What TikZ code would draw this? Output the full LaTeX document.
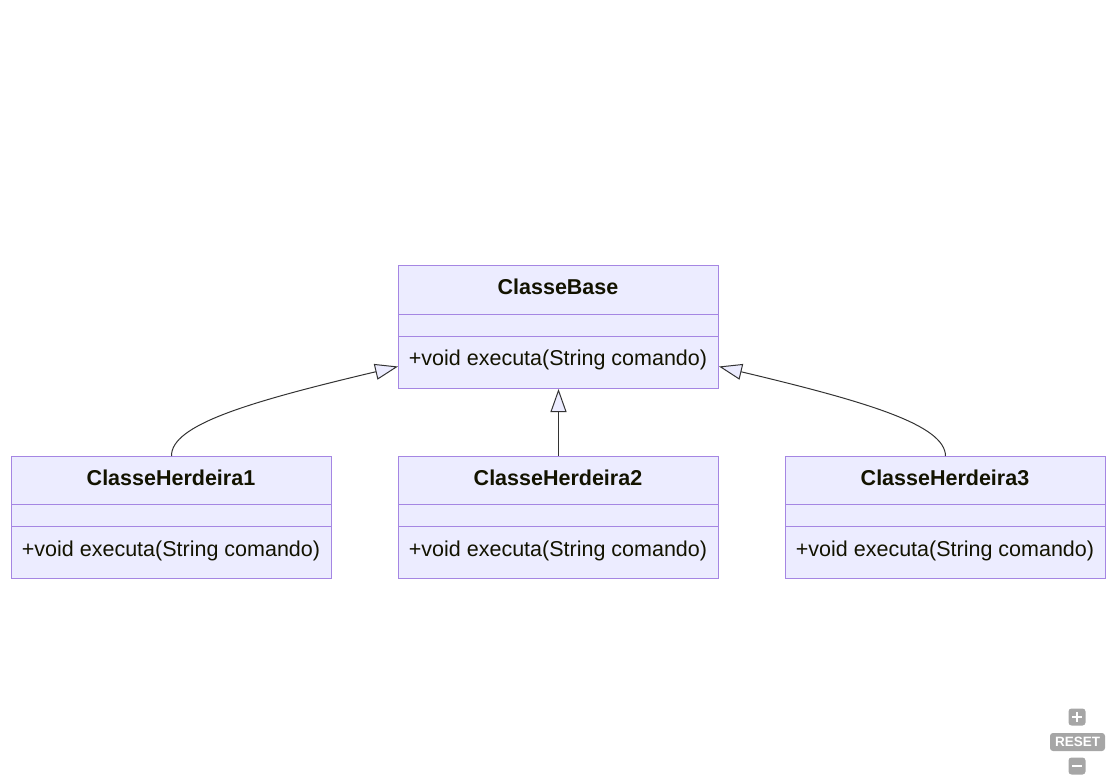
\documentclass[tikz,border=0pt]{standalone}
\usepackage{fontspec}
\setmainfont{Liberation Sans}
\usetikzlibrary{arrows.meta}
\definecolor{umlfill}{HTML}{ECECFF}
\definecolor{umlborder}{HTML}{A586E3}
\definecolor{umlline}{HTML}{333333}
\definecolor{umltext}{HTML}{131300}
\definecolor{ctlgray}{HTML}{A6A6A6}
\tikzset{
  comp/.style={draw=umlborder, fill=umlfill, line width=1pt, minimum width=320pt, inner sep=0pt, anchor=north west},
  ttl/.style={font=\fontsize{21.5}{24}\selectfont\bfseries, text=umltext, inner sep=0pt},
  mth/.style={font=\fontsize{21.5}{24}\selectfont, text=umltext, inner sep=0pt},
  inh/.style={draw=umlline, line width=1pt, -{Triangle[length=23pt, width=16pt, fill=umlfill]}},
  ctl/.style={fill=ctlgray, rounded corners=3pt, inner sep=0pt}
}
\begin{document}
\begin{tikzpicture}[x=1pt, y=-1pt]
\useasboundingbox (0,0) rectangle (1116,783);
% ClasseBase
\node[comp, minimum height=49pt] (baset) at (398,265) {};
\node[comp, minimum height=22pt] (basea) at (398,314) {};
\node[comp, minimum height=52pt] (basem) at (398,336) {};
\node[ttl] (basetl) at (558,287) {ClasseBase};
\node[mth] (baseml) at (558,359.5) {+void executa(String comando)};
% ClasseHerdeira1
\node[comp, minimum height=48pt] (h1t) at (11,456) {};
\node[comp, minimum height=22pt] (h1a) at (11,504) {};
\node[comp, minimum height=52pt] (h1m) at (11,526) {};
\node[ttl] (h1tl) at (171,478) {ClasseHerdeira1};
\node[mth] (h1ml) at (171,550.5) {+void executa(String comando)};
% ClasseHerdeira2
\node[comp, minimum height=48pt] (h2t) at (398,456) {};
\node[comp, minimum height=22pt] (h2a) at (398,504) {};
\node[comp, minimum height=52pt] (h2m) at (398,526) {};
\node[ttl] (h2tl) at (558,478) {ClasseHerdeira2};
\node[mth] (h2ml) at (558,550.5) {+void executa(String comando)};
% ClasseHerdeira3
\node[comp, minimum height=48pt] (h3t) at (785,456) {};
\node[comp, minimum height=22pt] (h3a) at (785,504) {};
\node[comp, minimum height=52pt] (h3m) at (785,526) {};
\node[ttl] (h3tl) at (945,478) {ClasseHerdeira3};
\node[mth] (h3ml) at (945,550.5) {+void executa(String comando)};
% inheritance connectors
\draw[inh] (h1t.north) .. controls (171,425) and (248,402) .. ([yshift=-4pt]basem.west);
\draw[inh] (h2t.north) -- (basem.south);
\draw[inh] (h3t.north) .. controls (945,425) and (868,402) .. ([yshift=-4pt]basem.east);
% zoom controls
\node[ctl, minimum width=17pt, minimum height=17pt] (zplus) at (1077,717) {};
\draw[white, line width=2.6pt] ([xshift=-5pt]zplus.center) -- ([xshift=5pt]zplus.center);
\draw[white, line width=2.6pt] ([yshift=-5pt]zplus.center) -- ([yshift=5pt]zplus.center);
\node[ctl, minimum width=55pt, minimum height=18pt, text=white, font=\fontsize{13.5}{14}\selectfont\bfseries] (zreset) at (1077.5,742) {RESET};
\node[ctl, minimum width=17pt, minimum height=17pt] (zminus) at (1077,766) {};
\draw[white, line width=2.6pt] ([xshift=-5pt]zminus.center) -- ([xshift=5pt]zminus.center);
\end{tikzpicture}
\end{document}
